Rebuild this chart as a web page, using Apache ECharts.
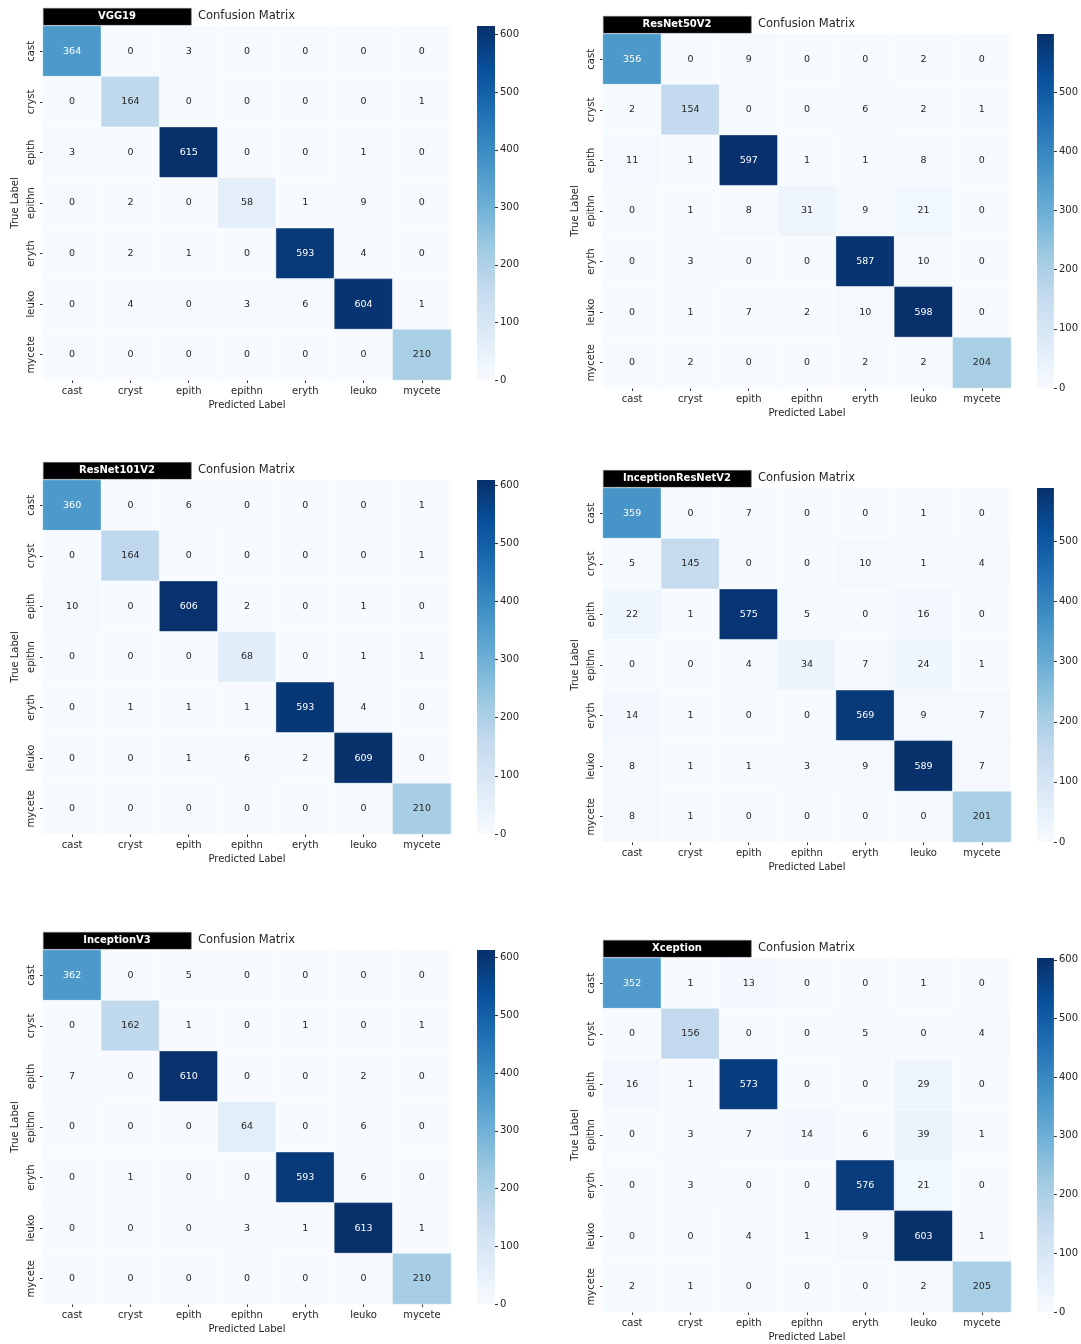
<!DOCTYPE html>
<html>
<head>
<meta charset="utf-8">
<script src="https://cdn.jsdelivr.net/npm/echarts@6/dist/echarts.min.js"></script>
<style>
  html, body { margin: 0; padding: 0; background: #fff; }
  #container { width: 1081px; height: 1344px; }
</style>
</head>
<body>
<div id="container"></div>
<script>
var classNames = ['cast', 'cryst', 'epith', 'epithn', 'eryth', 'leuko', 'mycete'];
var modelNames = ['VGG19', 'ResNet50V2', 'ResNet101V2', 'InceptionResNetV2', 'InceptionV3', 'Xception'];
var colorbarTicks = [0, 100, 200, 300, 400, 500, 600];

// rows = true label, cols = predicted label
var vgg19 = [
    [364, 0, 3, 0, 0, 0, 0],
    [0, 164, 0, 0, 0, 0, 1],
    [3, 0, 615, 0, 0, 1, 0],
    [0, 2, 0, 58, 1, 9, 0],
    [0, 2, 1, 0, 593, 4, 0],
    [0, 4, 0, 3, 6, 604, 1],
    [0, 0, 0, 0, 0, 0, 210]
];
var resnet50v2 = [
    [356, 0, 9, 0, 0, 2, 0],
    [2, 154, 0, 0, 6, 2, 1],
    [11, 1, 597, 1, 1, 8, 0],
    [0, 1, 8, 31, 9, 21, 0],
    [0, 3, 0, 0, 587, 10, 0],
    [0, 1, 7, 2, 10, 598, 0],
    [0, 2, 0, 0, 2, 2, 204]
];
var resnet101v2 = [
    [360, 0, 6, 0, 0, 0, 1],
    [0, 164, 0, 0, 0, 0, 1],
    [10, 0, 606, 2, 0, 1, 0],
    [0, 0, 0, 68, 0, 1, 1],
    [0, 1, 1, 1, 593, 4, 0],
    [0, 0, 1, 6, 2, 609, 0],
    [0, 0, 0, 0, 0, 0, 210]
];
var inceptionResnetV2 = [
    [359, 0, 7, 0, 0, 1, 0],
    [5, 145, 0, 0, 10, 1, 4],
    [22, 1, 575, 5, 0, 16, 0],
    [0, 0, 4, 34, 7, 24, 1],
    [14, 1, 0, 0, 569, 9, 7],
    [8, 1, 1, 3, 9, 589, 7],
    [8, 1, 0, 0, 0, 0, 201]
];
var inceptionV3 = [
    [362, 0, 5, 0, 0, 0, 0],
    [0, 162, 1, 0, 1, 0, 1],
    [7, 0, 610, 0, 0, 2, 0],
    [0, 0, 0, 64, 0, 6, 0],
    [0, 1, 0, 0, 593, 6, 0],
    [0, 0, 0, 3, 1, 613, 1],
    [0, 0, 0, 0, 0, 0, 210]
];
var xception = [
    [352, 1, 13, 0, 0, 1, 0],
    [0, 156, 0, 0, 5, 0, 4],
    [16, 1, 573, 0, 0, 29, 0],
    [0, 3, 7, 14, 6, 39, 1],
    [0, 3, 0, 0, 576, 21, 0],
    [0, 0, 4, 1, 9, 603, 1],
    [2, 1, 0, 0, 0, 2, 205]
];
var matrices = [vgg19, resnet50v2, resnet101v2, inceptionResnetV2, inceptionV3, xception];

// matplotlib "Blues"
var blues = ['#f7fbff', '#deebf7', '#c6dbef', '#9ecae1', '#6baed6', '#4292c6', '#2171b5', '#08519c', '#08306b'];

// heatmap top-left corner of each panel
var panelPos = [[43, 26], [603, 34], [43, 480], [603, 488], [43, 950], [603, 958]];
var cellW = 408, cellH = 354;
var font = 'DejaVu Sans';
var textColor = '#262626';

var dom = document.getElementById('container');
var myChart = echarts.init(dom, null, { renderer: 'canvas' });

var grid = [], xAxis = [], yAxis = [], series = [], visualMap = [], graphic = [];

matrices.forEach(function (m, i) {
    var gx = panelPos[i][0], gy = panelPos[i][1];
    var maxVal = 0;
    m.forEach(function (row) { row.forEach(function (v) { if (v > maxVal) maxVal = v; }); });

    grid[i] = { left: gx, top: gy, width: cellW, height: cellH };
    grid[i + 6] = { left: gx + 434, top: gy, width: 18, height: cellH };

    xAxis[i] = {
        type: 'category', gridIndex: i, data: classNames,
        name: 'Predicted Label', nameLocation: 'middle', nameGap: 20,
        nameTextStyle: { fontSize: 10, color: textColor, fontFamily: font },
        axisLine: { show: false },
        axisTick: { show: true, alignWithLabel: true, length: 3, lineStyle: { color: '#333' } },
        axisLabel: { fontSize: 10, color: textColor, margin: 6, fontFamily: font },
        splitLine: { show: false }, splitArea: { show: false }
    };
    yAxis[i] = {
        type: 'category', gridIndex: i, data: classNames, inverse: true,
        name: 'True Label', nameLocation: 'middle', nameGap: 23,
        nameTextStyle: { fontSize: 10, color: textColor, fontFamily: font },
        axisLine: { show: false },
        axisTick: { show: true, alignWithLabel: true, length: 3, lineStyle: { color: '#333' } },
        axisLabel: { fontSize: 10, color: textColor, margin: 7, rotate: 90, fontFamily: font },
        splitLine: { show: false }, splitArea: { show: false }
    };

    // colorbar axes
    var ticks = colorbarTicks.filter(function (t) { return t <= maxVal; });
    xAxis[i + 6] = {
        type: 'category', gridIndex: i + 6, data: [''],
        axisLine: { show: false }, axisTick: { show: false }, axisLabel: { show: false }
    };
    yAxis[i + 6] = {
        type: 'value', gridIndex: i + 6, min: 0, max: maxVal, position: 'right',
        axisLine: { show: false },
        splitLine: { show: false },
        axisTick: { show: true, length: 3, customValues: ticks, lineStyle: { color: '#333' } },
        axisLabel: { fontSize: 10, color: textColor, margin: 5, customValues: ticks, fontFamily: font }
    };

    var cells = [];
    for (var r = 0; r < m.length; r++) {
        for (var c = 0; c < m[r].length; c++) {
            var v = m[r][c];
            cells.push({
                value: [c, r, v],
                label: { color: v / maxVal > 0.47 ? '#ffffff' : textColor }
            });
        }
    }

    series[i] = {
        type: 'heatmap', xAxisIndex: i, yAxisIndex: i,
        data: cells,
        label: { show: true, fontSize: 9.5, fontFamily: font },
        itemStyle: { borderColor: 'rgba(255,255,255,0.7)', borderWidth: 0.6 },
        emphasis: { disabled: true }
    };
    series[i + 6] = {
        type: 'bar', xAxisIndex: i + 6, yAxisIndex: i + 6,
        data: [maxVal], barWidth: '100%', silent: true,
        itemStyle: {
            color: new echarts.graphic.LinearGradient(0, 1, 0, 0, blues.map(function (col, k) {
                return { offset: k / (blues.length - 1), color: col };
            }))
        }
    };

    visualMap[i] = {
        type: 'continuous', show: false, seriesIndex: i, dimension: 2,
        min: 0, max: maxVal, inRange: { color: blues }
    };

    // title bar
    graphic.push({
        type: 'rect', left: gx, top: gy - 18,
        shape: { width: 148, height: 17 },
        style: { fill: '#000', stroke: '#777', lineWidth: 0.6 }
    });
    graphic.push({
        type: 'text', x: gx + 74, y: gy - 9.5,
        style: {
            text: modelNames[i], fill: '#fff', font: 'bold 10px "DejaVu Sans"',
            textAlign: 'center', textVerticalAlign: 'middle'
        }
    });
    graphic.push({
        type: 'text', x: gx + 155, y: gy - 10,
        style: {
            text: 'Confusion Matrix', fill: textColor, font: '11.5px "DejaVu Sans"',
            textAlign: 'left', textVerticalAlign: 'middle'
        }
    });
});

var option = {
    animation: false,
    backgroundColor: '#fff',
    textStyle: { fontFamily: font },
    grid: grid,
    xAxis: xAxis,
    yAxis: yAxis,
    visualMap: visualMap,
    series: series,
    graphic: graphic
};

myChart.setOption(option);
</script>
</body>
</html>
